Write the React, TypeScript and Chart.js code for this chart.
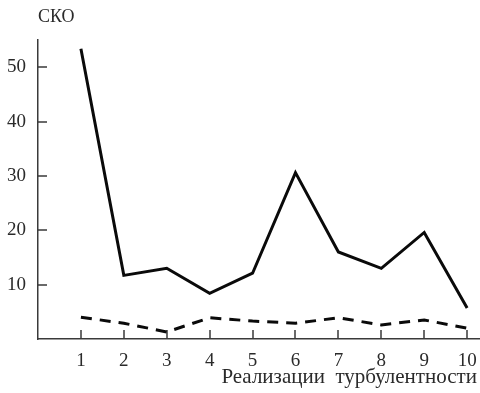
import React, { useEffect, useRef } from 'react';
import { Chart, registerables } from 'chart.js';

Chart.register(...registerables);

const categories = [1, 2, 3, 4, 5, 6, 7, 8, 9, 10];
const solidValues = [53.4, 11.7, 13.0, 8.4, 12.1, 30.6, 16.0, 13.0, 19.6, 5.7];
const dashedValues = [4.0, 2.9, 1.3, 3.9, 3.3, 2.9, 3.9, 2.6, 3.5, 2.0];
const xTickValues = [1, 2, 3, 4, 5, 6, 7, 8, 9, 10];
const yTickValues = [10, 20, 30, 40, 50];
const yAxisLabel = 'СКО';
const xAxisLabel = 'Реализации  турбулентности';

const FONT = '"Liberation Serif", "Times New Roman", serif';
const AXIS_COLOR = '#3a3a3a';
const TEXT_COLOR = '#2a2a2a';
const LINE_COLOR = '#0a0a0a';

const decorPlugin = {
  id: 'decor',
  beforeDatasetsDraw(chart: any) {
    const ctx = chart.ctx;
    const xs = chart.scales.x;
    const ys = chart.scales.y;
    const { left, bottom, right } = chart.chartArea;
    ctx.save();
    ctx.strokeStyle = AXIS_COLOR;
    ctx.lineWidth = 1.5;
    ctx.beginPath();
    xTickValues.forEach((v) => {
      const px = Math.round(xs.getPixelForValue(v));
      ctx.moveTo(px, bottom);
      ctx.lineTo(px, bottom - 9);
    });
    yTickValues.forEach((v) => {
      const py = Math.round(ys.getPixelForValue(v));
      ctx.moveTo(left, py);
      ctx.lineTo(left + 9, py);
    });
    ctx.stroke();
    ctx.fillStyle = TEXT_COLOR;
    ctx.font = `18px ${FONT}`;
    ctx.textBaseline = 'middle';
    ctx.textAlign = 'left';
    ctx.fillText(yAxisLabel, left, 17);
    ctx.font = `21px ${FONT}`;
    ctx.textAlign = 'right';
    ctx.fillText(xAxisLabel, right - 3, 377);
    ctx.restore();
  },
};

export default function App() {
  const canvasRef = useRef<HTMLCanvasElement | null>(null);

  useEffect(() => {
    if (!canvasRef.current) return;
    const chart = new Chart(canvasRef.current, {
      type: 'line',
      data: {
        datasets: [
          {
            data: categories.map((c, i) => ({ x: c, y: solidValues[i] })),
            borderColor: LINE_COLOR,
            borderWidth: 3,
            pointRadius: 0,
            tension: 0,
            fill: false,
          },
          {
            data: categories.map((c, i) => ({ x: c, y: dashedValues[i] })),
            borderColor: LINE_COLOR,
            borderWidth: 3,
            borderDash: [11, 8],
            pointRadius: 0,
            tension: 0,
            fill: false,
          },
        ],
      },
      options: {
        animation: false,
        responsive: false,
        maintainAspectRatio: false,
        layout: { padding: { top: 40, right: 0, bottom: 0, left: 0 } },
        plugins: {
          legend: { display: false },
          tooltip: { enabled: false },
          title: { display: false },
        },
        scales: {
          x: {
            type: 'linear',
            min: 0,
            max: 10.3,
            grid: { display: false, drawTicks: false },
            border: { display: true, color: AXIS_COLOR, width: 1.5 },
            ticks: {
              autoSkip: false,
              maxRotation: 0,
              padding: 11,
              color: TEXT_COLOR,
              font: { family: FONT, size: 19 },
            },
            afterBuildTicks: (scale: any) => {
              scale.ticks = xTickValues.map((v) => ({ value: v }));
            },
            afterFit: (scale: any) => {
              scale.height = 54;
              scale.paddingLeft = 0;
              scale.paddingRight = 0;
            },
          },
          y: {
            type: 'linear',
            min: 0,
            max: 55,
            grid: { display: false, drawTicks: false },
            border: { display: true, color: AXIS_COLOR, width: 1.5 },
            ticks: {
              padding: 12,
              color: TEXT_COLOR,
              font: { family: FONT, size: 19 },
            },
            afterBuildTicks: (scale: any) => {
              scale.ticks = yTickValues.map((v) => ({ value: v }));
            },
            afterFit: (scale: any) => {
              scale.width = 38;
              scale.paddingTop = 0;
              scale.paddingBottom = 0;
            },
          },
        },
      },
      plugins: [decorPlugin],
    });
    return () => chart.destroy();
  }, []);

  return (
    <div style={{ position: 'fixed', left: 0, top: 0, width: 480, height: 393, background: '#fff' }}>
      <canvas ref={canvasRef} width={480} height={393} />
    </div>
  );
}
